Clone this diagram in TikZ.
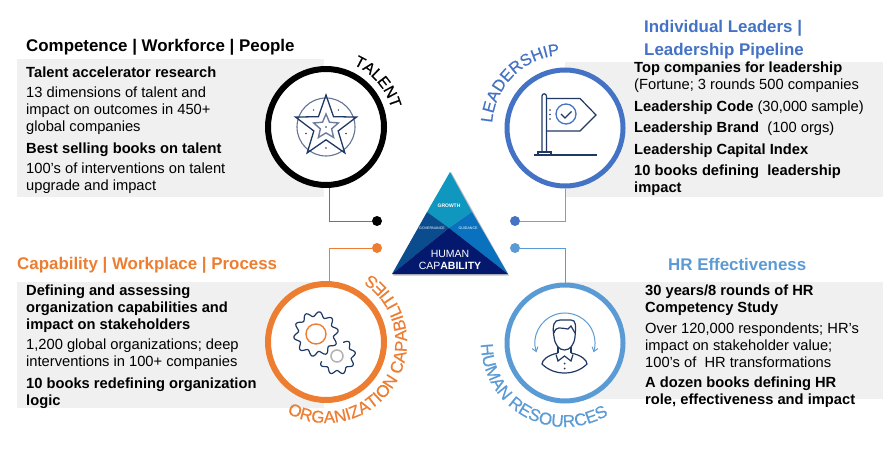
\documentclass[tikz,border=0pt]{standalone}
\usepackage{fontspec}
\setmainfont{Liberation Sans}
\newfontfamily\arcface[FakeBold=0.5]{Liberation Sans}
\usetikzlibrary{arrows.meta,calc,decorations.text,shapes.geometric}
\definecolor{talentc}{HTML}{000000}
\definecolor{leadc}{HTML}{4472C4}
\definecolor{orgc}{HTML}{ED7D31}
\definecolor{hrc}{HTML}{5B9BD5}
\definecolor{navyc}{HTML}{1F3864}
\definecolor{panelc}{HTML}{F0F0F0}
\definecolor{growthc}{HTML}{1097BF}
\definecolor{govc}{HTML}{0A4C8E}
\definecolor{guidc}{HTML}{0A71BF}
\definecolor{humanc}{HTML}{04196E}
\newcommand{\bodyfont}{\fontsize{14.7}{17}\selectfont}
\newcommand{\headfont}{\fontsize{16.9}{23}\selectfont\bfseries}
\newcommand{\arcfont}{\arcface\fontsize{15.6}{18}\selectfont}

\begin{document}
\begin{tikzpicture}[
		x=1pt,y=1pt,
		>={Straight Barb[length=4pt,width=6pt]},
		panel/.style={fill=panelc},
		ring/.style={circle, draw=#1, fill=white, line width=6pt, minimum size=116pt, inner sep=0pt},
		dot/.style={circle, fill=#1, minimum size=10pt, inner sep=0pt},
		link/.style={draw=#1, line width=0.8pt},
		txt/.style={anchor=north west, inner sep=0pt, align=left, font=\bodyfont, text=black},
		bld/.style={txt, font=\bodyfont\bfseries},
		head/.style={anchor=north west, inner sep=0pt, align=left, font=\headfont},
		icon/.style={draw=navyc, line width=1.2pt},
		tri/.style={white, inner sep=0pt}
		]
		\useasboundingbox (0,0) rectangle (893,-449);
		
		% --------------------------------------------------
		% Grey panels
		% --------------------------------------------------
		\fill[panel] (17,-59) rectangle (324,-197);
		\fill[panel] (565,-62) rectangle (883,-197);
		\fill[panel] (17,-282) rectangle (324,-408);
		\fill[panel] (565,-282) rectangle (883,-399);
		
		% --------------------------------------------------
		% Rings
		% --------------------------------------------------
		\node[ring=talentc] (talent) at (326,-127) {};
		\node[ring=leadc, line width=5pt] (lead) at (565,-128) {};
		\node[ring=orgc] (org) at (326,-342) {};
		\node[ring=hrc, line width=5pt] (hr) at (565,-343) {};
		
		% Dots and connectors
		\node[dot=black] (talentdot) at (377,-221) {};
		\node[dot=leadc] (leaddot) at (515,-221) {};
		\node[dot=orgc] (orgdot) at (377,-248) {};
		\node[dot=hrc] (hrdot) at (515,-248) {};
		
		\draw[link=black!55] (talent.-87) |- (talentdot);
		\draw[link=leadc!70] (lead.south) |- (leaddot);
		\draw[link=orgc] (org.87) |- (orgdot);
		\draw[link=hrc] (hr.north) |- (hrdot);
		
		% --------------------------------------------------
		% Text on the rings
		% --------------------------------------------------
		\path[decorate, decoration={text along path, text align=center,
			text={|\arcfont|TALENT}}]
			($(talent)+(95:68)$) arc[start angle=95, end angle=-13, radius=68];
		\path[decorate, decoration={text along path, text align=center,
			text={|\arcface\fontsize{16.5}{18}\selectfont\color{leadc}|LEADERSHIP}}]
			($(lead)+(195:73)$) arc[start angle=195, end angle=75, radius=73];
		\path[decorate, decoration={text along path, text align=center,
			text={|\arcface\fontsize{17}{18}\selectfont\color{orgc}|ORGANIZATION CAPABILITIES}}]
			($(org)+(229:81)$) arc[start angle=229, end angle=429, radius=81];
		\path[decorate, decoration={text along path, text align=center,
			text={|\arcface\fontsize{17.2}{18}\selectfont\color{hrc}|HUMAN RESOURCES}}]
			($(hr)+(165:84)$) arc[start angle=165, end angle=317, radius=84];
		
		% --------------------------------------------------
		% Pyramid
		% --------------------------------------------------
		\coordinate (apex) at (450,-172);
		\coordinate (baseL) at (392,-274);
		\coordinate (baseR) at (508,-274);
		\coordinate (midL) at (427,-212);
		\coordinate (midR) at (472,-212);
		\coordinate (mid) at (449,-228);
		
		\fill[black!25] ($(baseL)+(1,-1.5)$) -- ($(baseR)+(1,-1.5)$) -- ($(apex)+(1,0)$) -- cycle;
		\fill[growthc] (apex) -- (midR) -- (mid) -- (midL) -- cycle;
		\fill[govc] (midL) -- (mid) -- (baseL) -- cycle;
		\fill[guidc] (midR) -- (mid) -- (baseR) -- cycle;
		\fill[humanc] (baseL) -- (mid) -- (baseR) -- cycle;
		
		\node[tri, font=\fontsize{5}{6}\selectfont\bfseries] (growth) at (449,-206) {GROWTH};
		\node[tri, font=\fontsize{3.6}{4}\selectfont] (gov) at (432,-228) {GOVERNANCE};
		\node[tri, font=\fontsize{3.6}{4}\selectfont] (guid) at (468,-228) {GUIDANCE};
		\node[tri, font=\fontsize{10.5}{12}\selectfont] (human) at (450,-254) {HUMAN};
		\node[tri, font=\fontsize{10.5}{12}\selectfont] (cap) at (450,-266) {CAP\textbf{ABILITY}};
		
		% --------------------------------------------------
		% Star icon
		% --------------------------------------------------
		\draw[line width=1.1pt, draw=navyc!70] (talent) circle (29);
		\node[star, star points=5, star point ratio=2.5, draw=navyc, line width=1.3pt, minimum size=64pt, inner sep=0pt] (bigstar) at (326,-127) {};
		\node[star, star points=5, star point ratio=2.2, draw=navyc!65, line width=1.4pt, minimum size=26pt, inner sep=0pt] (smallstar) at (326,-127) {};
		\foreach \a in {54,126,198,270,342}
			\fill[navyc] ($(talent)+(\a:21)$) circle (0.8);
		\fill[navyc] (talent) circle (0.8);
		
		% --------------------------------------------------
		% Flag icon
		% --------------------------------------------------
		\draw[icon] (542,-152) -- (542,-96) arc[start angle=180, end angle=0, radius=2.2] -- (546.4,-152);
		\draw[icon] (546.4,-98.5) -- (580,-98.5) -- (596,-115) -- (580,-131) -- (546.4,-131);
		\draw[icon] (534,-155) -- (597,-155);
		\draw[icon] (538,-155) rectangle (551,-152);
		\draw[draw=leadc, line width=1.3pt] (566,-114) circle (10);
		\draw[draw=navyc, line width=1.3pt] (561,-114) -- (565,-118) -- (571.5,-111.5);
		\foreach \y in {110,114.5,119}
			\fill[navyc] (550,-\y) circle (0.9);
		
		% --------------------------------------------------
		% Gears icon
		% --------------------------------------------------
		\draw[icon, shift={(337,-356)}] plot[smooth, domain=199:426, samples=91] (\x:{16.5+2*sin(9*\x)});
		\draw[black!30, line width=1.5pt] (337,-356) circle (6);
		\draw[icon, fill=white, shift={(316,-334)}] plot[smooth, domain=0:360, samples=145] (\x:{20+2.4*sin(10*\x)}) -- cycle;
		\draw[orgc, line width=1.4pt] (316,-334) circle (10);
		
		% --------------------------------------------------
		% Person icon
		% --------------------------------------------------
		\draw[hrc, line width=1pt, <->] ($(hr)+(198:30)$) arc[start angle=198, end angle=-18, radius=30];
		\draw[icon] (554,-337) .. controls (552,-325) and (554,-320) .. (560,-320) -- (571,-320)
			.. controls (576,-320) and (576,-325) .. (575,-337)
			.. controls (574,-345) and (570,-350) .. (564.5,-350)
			.. controls (559,-350) and (555,-345) .. (554,-337);
		\draw[icon] (554,-333) .. controls (556,-326) and (560,-328) .. (568,-329) -- (571,-326) -- (575,-333);
		\draw[icon] (558,-347) -- (558,-353) (571,-347) -- (571,-353);
		\draw[icon] (558,-353) .. controls (548,-355) and (542,-360) .. (542,-364)
			.. controls (548,-370) and (556,-373) .. (564.5,-373)
			.. controls (573,-373) and (581,-370) .. (587,-364)
			.. controls (587,-360) and (581,-355) .. (571,-353);
		\draw[icon] (556,-354.5) -- (558,-361) -- (564.5,-356) -- (571,-361) -- (573,-354.5);
		\fill[navyc] (564.5,-363.5) circle (1) (564.5,-368.5) circle (1);
		
		% --------------------------------------------------
		% Top left text
		% --------------------------------------------------
		\node[head] (tlhead) at (26,-39) {Competence | Workforce | People};
		\node[bld] (tl1) at (26,-66.5) {Talent accelerator research};
		\node[txt] (tl2) at (26,-87) {13 dimensions of talent and\\impact on outcomes in 450+\\global companies};
		\node[bld] (tl3) at (26,-142.5) {Best selling books on talent};
		\node[txt] (tl4) at (26,-163) {100's of interventions on talent\\upgrade and impact};
		
		% --------------------------------------------------
		% Top right text
		% --------------------------------------------------
		\node[head, text=leadc] (trhead) at (644,-20) {Individual Leaders |\\Leadership Pipeline};
		\node[txt] (tr1) at (634,-62) {\textbf{Top companies for leadership}\\(Fortune; 3 rounds 500 companies};
		\node[txt] (tr2) at (634,-100.5) {\textbf{Leadership Code} (30,000 sample)};
		\node[txt] (tr3) at (634,-122) {\textbf{Leadership Brand}\ \ (100 orgs)};
		\node[bld] (tr4) at (634,-143.5) {Leadership Capital Index};
		\node[bld] (tr5) at (634,-165) {10 books defining\ \ leadership\\impact};
		
		% --------------------------------------------------
		% Bottom left text
		% --------------------------------------------------
		\node[head, text=orgc] (blhead) at (17,-257) {Capability | Workplace | Process};
		\node[bld] (bl1) at (26,-284.5) {Defining and assessing\\organization capabilities and\\impact on stakeholders};
		\node[txt] (bl2) at (26,-338.5) {1,200 global organizations; deep\\interventions in 100+ companies};
		\node[bld] (bl3) at (26,-377.5) {10 books redefining organization\\logic};
		
		% --------------------------------------------------
		% Bottom right text
		% --------------------------------------------------
		\node[head, text=hrc] (brhead) at (668,-258) {HR Effectiveness};
		\node[bld] (br1) at (645,-284.5) {30 years/8 rounds of HR\\Competency Study};
		\node[txt] (br2) at (645,-322.5) {Over 120,000 respondents; HR's\\impact on stakeholder value;\\100's of\ \ HR transformations};
		\node[bld] (br3) at (645,-377) {A dozen books defining HR\\role, effectiveness and impact};
		
	\end{tikzpicture}
\end{document}
